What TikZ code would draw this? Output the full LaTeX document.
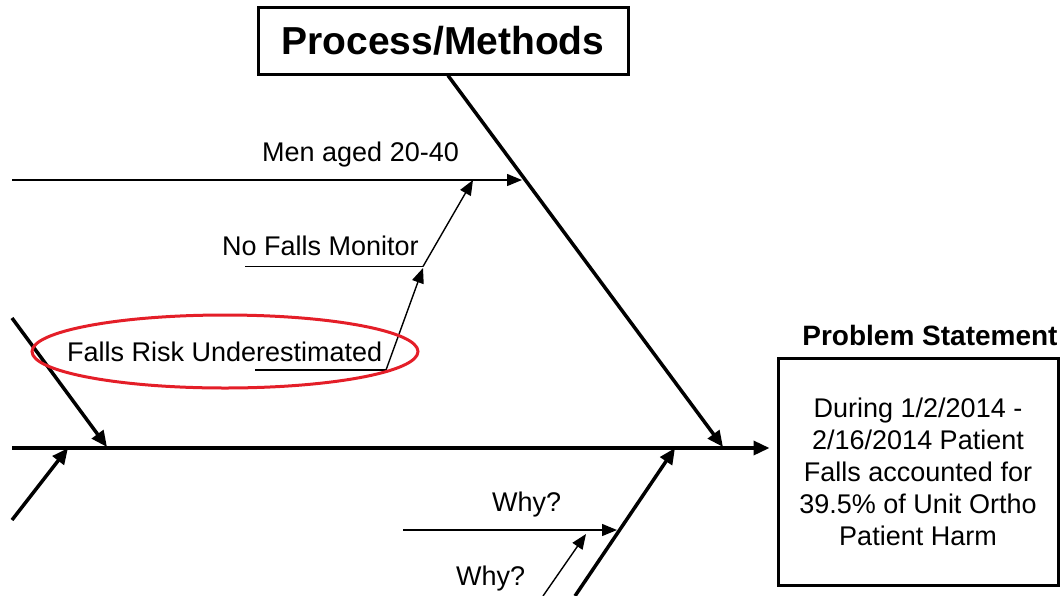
\documentclass[tikz,border=0pt]{standalone}
\usepackage{fontspec}
\setmainfont{Liberation Sans}
\usetikzlibrary{arrows.meta,shapes.geometric}
\definecolor{markred}{RGB}{228,30,40}
\tikzset{
  bone/.style={line width=3.5pt, -{Triangle[length=16pt,width=14pt]}},
  subbone/.style={line width=1.4pt, -{Triangle[length=15pt,width=12pt]}},
  twig/.style={line width=1.4pt},
  cause/.style={anchor=base west, inner sep=0pt, font=\fontsize{27}{32}\selectfont},
  headbox/.style={draw, line width=3pt, inner sep=0pt, font=\bfseries\fontsize{39}{44}\selectfont}
}
\begin{document}
\begin{tikzpicture}[x=1pt, y=-1pt]
        \useasboundingbox (0,0) rectangle (1062,595);

        \node[headbox, minimum width=370pt, minimum height=67pt] (process) at (443,40.5) {Process/Methods};
        \node[draw, line width=3pt, minimum width=280pt, minimum height=227pt, align=center, inner sep=0pt,
              font=\fontsize{27}{32}\selectfont] (problem) at (918,471.5)
              {During 1/2/2014 -\\2/16/2014 Patient\\Falls accounted for\\39.5\% of Unit Ortho\\Patient Harm};
        \node[anchor=base, inner sep=0pt, font=\bfseries\fontsize{28}{32}\selectfont] (ptitle) at (930,345) {Problem Statement};

        \coordinate (spine-tail) at (12,448);
        \coordinate (pm-head) at (723,447);
        \coordinate (left-top) at (12,318);
        \coordinate (left-top-head) at (107,447);
        \coordinate (left-low) at (12,520);
        \coordinate (left-low-head) at (68,448);
        \coordinate (low-foot) at (575,596);
        \coordinate (low-head) at (675,448);

        \draw[bone] (spine-tail) -- ([xshift=-7pt]spine-tail -| problem.west);
        \draw[bone] ([xshift=5pt]process.south) -- (pm-head);
        \draw[bone] (left-top) -- (left-top-head);
        \draw[bone] (left-low) -- (left-low-head);
        \draw[bone] (low-foot) -- (low-head);

        \node[cause] (men) at (262,161) {Men aged 20-40};
        \node[cause] (monitor) at (222,255) {No Falls Monitor};
        \node[cause] (risk) at (67,361.5) {Falls Risk Underestimated};
        \node[cause] (why1) at (492,511.5) {Why?};
        \node[cause] (why2) at (456,585) {Why?};

        \coordinate (men-tail) at (12,180);
        \coordinate (men-head) at (522,180);
        \coordinate (monitor-tail) at (245,266.5);
        \coordinate (monitor-end) at (423,266.5);
        \coordinate (monitor-head) at (473,180);
        \coordinate (risk-tail) at (255,370);
        \coordinate (risk-end) at (386,370);
        \coordinate (risk-head) at (423,268);
        \coordinate (why1-tail) at (403,530);
        \coordinate (why1-head) at (617,530);
        \coordinate (why2-tail) at (543,596);
        \coordinate (why2-head) at (586,534);

        \draw[subbone] (men-tail) -- (men-head);
        \draw[twig] (monitor-tail) -- (monitor-end);
        \draw[subbone] (monitor-end) -- (monitor-head);
        \draw[twig] (risk-tail) -- (risk-end);
        \draw[subbone] (risk-end) -- (risk-head);
        \draw[subbone] (why1-tail) -- (why1-head);
        \draw[subbone] (why2-tail) -- (why2-head);

        \node[ellipse, draw=markred, line width=3pt, minimum width=386pt, minimum height=73pt] (mark) at (225,351.5) {};
    \end{tikzpicture}
\end{document}
